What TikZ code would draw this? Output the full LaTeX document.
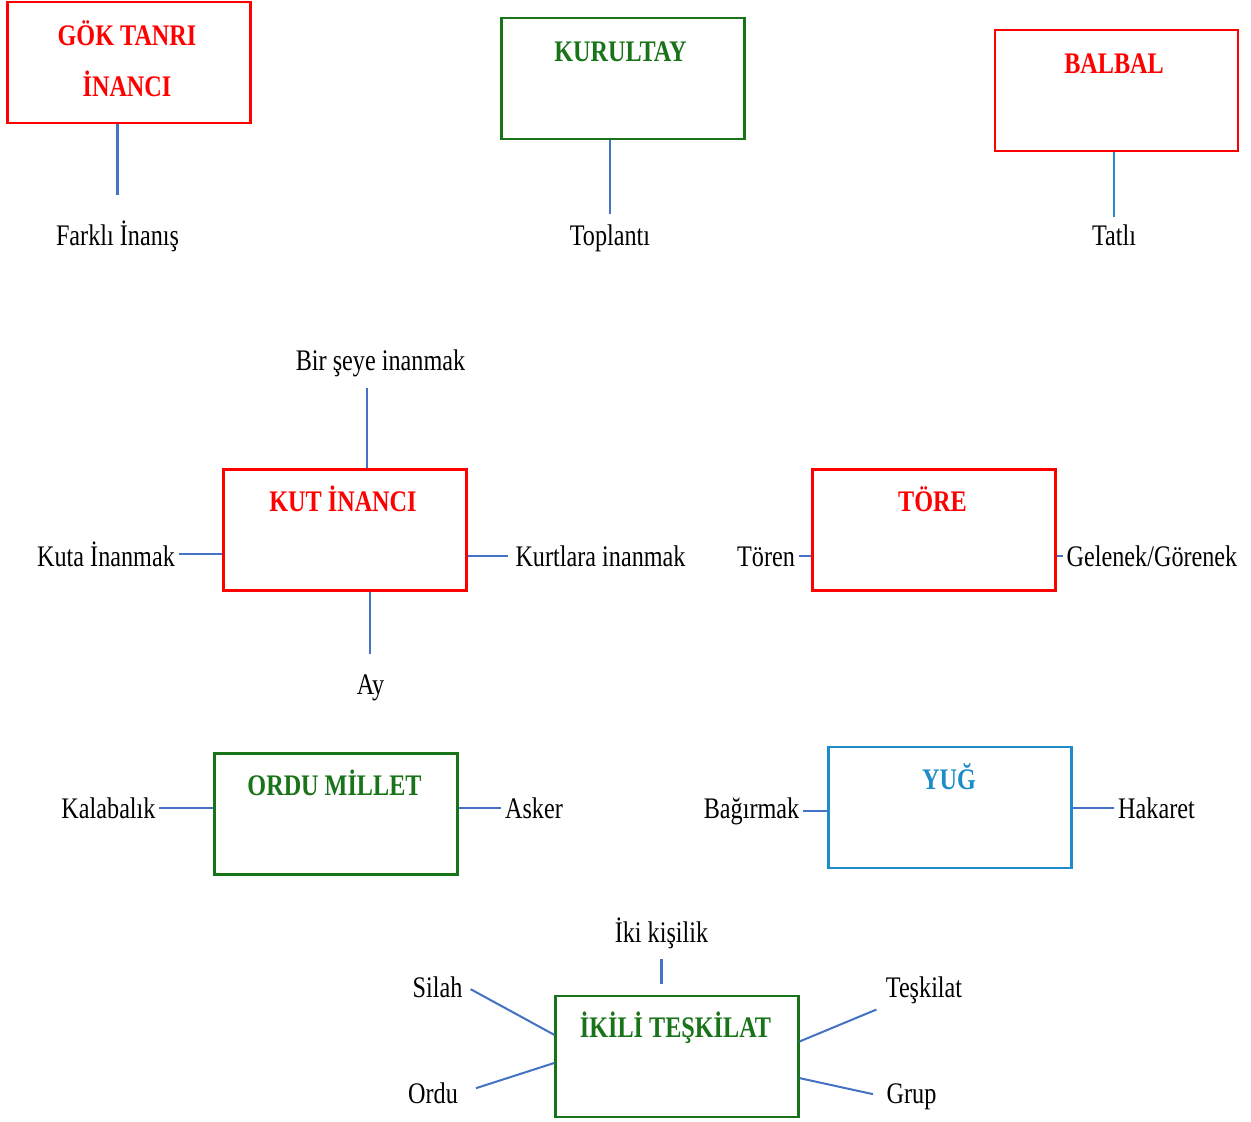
\documentclass[tikz,border=0pt]{standalone}
\usepackage{fontspec}
\setmainfont{Liberation Serif}[FakeStretch=0.81]
\usepackage{xcolor}
\usepackage{tikz}

\definecolor{kirmizi}{RGB}{255,0,0}
\definecolor{yesil}{RGB}{25,115,25}
\definecolor{mavi}{RGB}{30,140,200}
\definecolor{cizgi}{RGB}{68,114,196}
\definecolor{turkuaz}{RGB}{40,140,200}

\begin{document}
\begin{tikzpicture}[x=0.02cm, y=-0.02cm,
    font=\fontsize{17}{29}\selectfont,
    kutu/.style={draw, line width=1.3pt, minimum width=4.86cm, minimum height=2.42cm, inner sep=0pt},
    baslik/.style={font=\fontsize{17}{29}\selectfont\bfseries, anchor=base, inner sep=0pt},
    etiket/.style={anchor=base, inner sep=2pt},
    bag/.style={draw=cizgi, line width=1.15pt}]
    \useasboundingbox (0,0) rectangle (1251,1122);

    \node[kutu, draw=kirmizi] (gok) at (129,62.5) {};
    \node[baslik, text=kirmizi, anchor=north, align=center] (gokyazi) at (127,20) {GÖK TANRI\\İNANCI};
    \node[etiket] (farkli) at (117.5,245) {Farklı İnanış};
    \draw[bag, shorten >=0.42cm] (gok.south -| farkli.north) -- (farkli.north);

    \node[kutu, draw=yesil] (kurultay) at (623,78.5) {};
    \node[baslik, text=yesil] (kurultayyazi) at (620.5,62) {KURULTAY};
    \node[etiket] (toplanti) at (610,245) {Toplantı};
    \draw[bag, shorten >=0.12cm] (kurultay.south -| toplanti.north) -- (toplanti.north);

    \node[kutu, draw=kirmizi] (balbal) at (1116.5,90.5) {};
    \node[baslik, text=kirmizi] (balbalyazi) at (1114,74) {BALBAL};
    \node[etiket] (tatli) at (1114,245) {Tatlı};
    \draw[bag, draw=turkuaz, shorten >=0.06cm] (balbal.south -| tatli.north) -- (tatli.north);

    \node[kutu, draw=kirmizi] (kut) at (345,530) {};
    \node[baslik, text=kirmizi] (kutyazi) at (343,511) {KUT İNANCI};
    \node[etiket] (sey) at (380.5,370) {Bir şeye inanmak};
    \node[etiket] (kuta) at (106,566) {Kuta İnanmak};
    \node[etiket] (kurtlara) at (600.5,566) {Kurtlara inanmak};
    \node[etiket] (ay) at (370.5,694) {Ay};
    \draw[bag, shorten <=0.16cm] (kut.70 |- sey.south) -- (kut.70);
    \draw[bag] (kuta.east) -- (kuta.east -| kut.west);
    \draw[bag, shorten >=0.08cm] (kurtlara.west -| kut.east) -- (kurtlara.west);
    \draw[bag, shorten >=0.32cm] (kut.-68) -- (kut.-68 |- ay.north);

    \node[kutu, draw=kirmizi] (tore) at (934,530) {};
    \node[baslik, text=kirmizi] (toreyazi) at (932.5,511) {TÖRE};
    \node[etiket] (toren) at (766,566) {Tören};
    \node[etiket] (gelenek) at (1152,566) {Gelenek/Görenek};
    \draw[bag] (toren.east) -- (toren.east -| tore.west);
    \draw[bag] (gelenek.west -| tore.east) -- (gelenek.west);

    \node[kutu, draw=yesil] (millet) at (336,814) {};
    \node[baslik, text=yesil] (milletyazi) at (334.5,795) {ORDU MİLLET};
    \node[etiket] (kalabalik) at (108.5,818) {Kalabalık};
    \node[etiket] (asker) at (534,818) {Asker};
    \draw[bag] (kalabalik.east) -- (kalabalik.east -| millet.west);
    \draw[bag] (asker.west -| millet.east) -- (asker.west);

    \node[kutu, draw=mavi] (yug) at (950,807.5) {};
    \node[baslik, text=mavi] (yugyazi) at (949,789) {YUĞ};
    \node[etiket] (bagirmak) at (751.5,818) {Bağırmak};
    \node[etiket] (hakaret) at (1156.5,818) {Hakaret};
    \draw[bag] (bagirmak.east) -- (bagirmak.east -| yug.west);
    \draw[bag] (hakaret.west -| yug.east) -- (hakaret.west);

    \node[kutu, draw=yesil] (ikili) at (677,1056.5) {};
    \node[baslik, text=yesil] (ikiliyazi) at (675.5,1037) {İKİLİ TEŞKİLAT};
    \node[etiket] (kisilik) at (661.5,942) {İki kişilik};
    \node[etiket] (silah) at (437.5,997) {Silah};
    \node[etiket] (ordu) at (433,1103) {Ordu};
    \node[etiket] (teskilat) at (924,997) {Teşkilat};
    \node[etiket] (grup) at (911.5,1103) {Grup};
    \draw[bag, shorten <=0.14cm, shorten >=0.22cm] (kisilik.south) -- (kisilik.south |- ikili.north);
    \draw[bag, shorten <=0.1cm] (silah.east) -- (ikili.170);
    \draw[bag, shorten <=0.3cm] (ordu.east) -- (ikili.183);
    \draw[bag, shorten <=0.12cm] (teskilat.south west) -- (ikili.7);
    \draw[bag, shorten <=0.2cm] (grup.west) -- (ikili.-10);
\end{tikzpicture}
\end{document}
